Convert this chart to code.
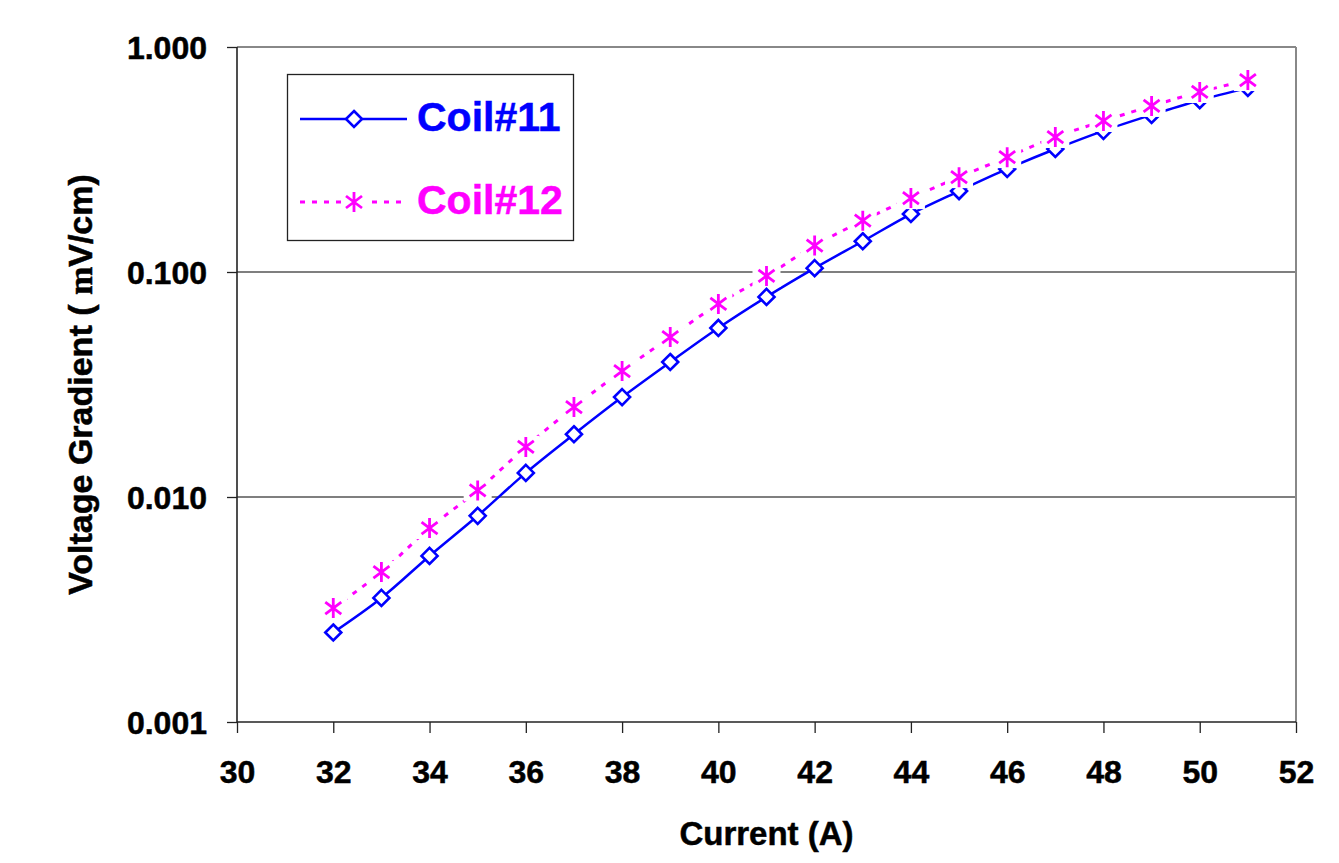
<!DOCTYPE html>
<html lang="en">
    <head>
        <meta charset="UTF-8" />
        <title>Voltage Gradient vs Current</title>
        <script src="https://d3js.org/d3.v7.min.js"></script>
        <style>
            body {
                margin: 0;
                background: #fff;
            }
            text {
                font-family: "Liberation Sans", Arial, sans-serif;
                font-weight: bold;
                stroke-width: 0.5px;
                paint-order: stroke;
            }
            .axis path {
                display: none;
            }
            .axis line {
                stroke: #222;
                stroke-width: 1.3px;
            }
            .axis text {
                font-size: 32px;
                fill: #000;
                stroke: #000;
            }
        </style>
    </head>
    <body>
        <div id="chart"></div>
        <script>
            const width = 1339,
                height = 863;

            // Current (A)
            const current = [
                32, 33, 34, 35, 36, 37, 38, 39, 40, 41, 42, 43, 44, 45, 46, 47,
                48, 49, 50, 51,
            ];

            // Voltage gradient (mV/cm)
            const coil11 = [
                0.0025, 0.00356, 0.00547, 0.00825, 0.0128, 0.019, 0.0278,
                0.0398, 0.0564, 0.0775, 0.104, 0.137, 0.181, 0.229, 0.287,
                0.352, 0.424, 0.499, 0.58, 0.658,
            ];
            const coil12 = [
                0.00321, 0.00464, 0.00728, 0.0107, 0.0167, 0.0251, 0.0363,
                0.0514, 0.0721, 0.096, 0.131, 0.169, 0.213, 0.264, 0.324,
                0.398, 0.469, 0.547, 0.631, 0.713,
            ];

            const xTicks = [30, 32, 34, 36, 38, 40, 42, 44, 46, 48, 50, 52];
            const yTicks = [0.001, 0.01, 0.1, 1];
            const gridValues = [0.01, 0.1];

            const margin = { left: 237, right: 43, top: 47, bottom: 141 };
            const plotW = width - margin.left - margin.right;
            const plotH = height - margin.top - margin.bottom;

            const svg = d3
                .select("#chart")
                .append("svg")
                .attr("width", width)
                .attr("height", height);

            const x = d3
                .scaleLinear()
                .domain([30, 52])
                .range([margin.left, margin.left + plotW]);
            const y = d3
                .scaleLog()
                .domain([0.001, 1])
                .range([margin.top + plotH, margin.top]);

            // gridlines
            svg.selectAll(".grid")
                .data(gridValues)
                .enter()
                .append("line")
                .attr("x1", x(30))
                .attr("x2", x(52))
                .attr("y1", (d) => y(d))
                .attr("y2", (d) => y(d))
                .attr("stroke", "#555")
                .attr("stroke-width", 1.6);

            // frame: top/right grey, left/bottom dark
            svg.append("line")
                .attr("x1", x(30))
                .attr("x2", x(52))
                .attr("y1", y(1))
                .attr("y2", y(1))
                .attr("stroke", "#888")
                .attr("stroke-width", 2);
            svg.append("line")
                .attr("x1", x(52))
                .attr("x2", x(52))
                .attr("y1", y(1))
                .attr("y2", y(0.001))
                .attr("stroke", "#888")
                .attr("stroke-width", 2);
            svg.append("line")
                .attr("x1", x(30))
                .attr("x2", x(30))
                .attr("y1", y(1))
                .attr("y2", y(0.001))
                .attr("stroke", "#222")
                .attr("stroke-width", 1.6);
            svg.append("line")
                .attr("x1", x(30))
                .attr("x2", x(52))
                .attr("y1", y(0.001))
                .attr("y2", y(0.001))
                .attr("stroke", "#222")
                .attr("stroke-width", 1.6);

            // axes
            const xAxis = svg
                .append("g")
                .attr("class", "axis")
                .attr("transform", `translate(0,${y(0.001)})`)
                .call(
                    d3
                        .axisBottom(x)
                        .tickValues(xTicks)
                        .tickSize(11)
                        .tickPadding(28)
                        .tickFormat(d3.format("d")),
                );
            xAxis.selectAll("text").attr("dy", null).attr("y", 61);

            const yAxis = svg
                .append("g")
                .attr("class", "axis")
                .attr("transform", `translate(${x(30)},0)`)
                .call(
                    d3
                        .axisLeft(y)
                        .tickValues(yTicks)
                        .tickSize(10)
                        .tickPadding(20)
                        .tickFormat(d3.format(".3f")),
                );
            yAxis.selectAll("text").attr("dy", "0.35em");

            // axis titles
            svg.append("text")
                .attr("x", (x(30) + x(52)) / 2)
                .attr("y", 845)
                .attr("text-anchor", "middle")
                .attr("stroke", "#000")
                .style("font-size", "33px")
                .text("Current (A)");

            const yTitle = svg
                .append("text")
                .attr(
                    "transform",
                    `translate(92,${(y(1) + y(0.001)) / 2}) rotate(-90)`,
                )
                .attr("text-anchor", "middle")
                .attr("stroke", "#000")
                .style("font-size", "34px");
            yTitle.append("tspan").text("Voltage Gradient ( ");
            yTitle
                .append("tspan")
                .style(
                    "font-family",
                    "'Liberation Serif', 'Times New Roman', serif",
                )
                .text("m");
            yTitle.append("tspan").text("V/cm)");

            const line = d3
                .line()
                .x((d) => x(d[0]))
                .y((d) => y(d[1]))
                .curve(d3.curveCatmullRom.alpha(0.5));

            const pts11 = current.map((c, i) => [c, coil11[i]]);
            const pts12 = current.map((c, i) => [c, coil12[i]]);

            const diamond = (s) => `M0,${-s}L${s},0L0,${s}L${-s},0Z`;
            const star = (s) =>
                `M0,${-s}V${s}M${-s * 0.8},${-s * 0.6}L${s * 0.8},${s * 0.6}M${-s * 0.8},${s * 0.6}L${s * 0.8},${-s * 0.6}`;

            // Coil#11
            svg.append("path")
                .datum(pts11)
                .attr("d", line)
                .attr("fill", "none")
                .attr("stroke", "#0000ff")
                .attr("stroke-width", 2.5);
            svg.selectAll(".m11")
                .data(pts11)
                .enter()
                .append("path")
                .attr("transform", (d) => `translate(${x(d[0])},${y(d[1])})`)
                .attr("d", diamond(8))
                .attr("fill", "#fff")
                .attr("stroke", "#0000ff")
                .attr("stroke-width", 2.6);

            // Coil#12
            svg.append("path")
                .datum(pts12)
                .attr("d", line)
                .attr("fill", "none")
                .attr("stroke", "#ff00ff")
                .attr("stroke-width", 3)
                .attr("stroke-dasharray", "5,7");
            const m12 = svg
                .selectAll(".m12")
                .data(pts12)
                .enter()
                .append("g")
                .attr("transform", (d) => `translate(${x(d[0])},${y(d[1])})`);
            m12.append("rect")
                .attr("x", -14)
                .attr("y", -11)
                .attr("width", 28)
                .attr("height", 22)
                .attr("fill", "#fff");
            m12.append("path")
                .attr("d", star(10))
                .attr("fill", "none")
                .attr("stroke", "#ff00ff")
                .attr("stroke-width", 2.8);

            // legend
            const legend = svg.append("g");
            legend
                .append("rect")
                .attr("x", 287.5)
                .attr("y", 74.5)
                .attr("width", 286)
                .attr("height", 166)
                .attr("fill", "#fff")
                .attr("stroke", "#222")
                .attr("stroke-width", 1.3);

            const legendItems = [
                { name: "Coil#11", color: "#0000ff", y: 119, dash: null },
                { name: "Coil#12", color: "#ff00ff", y: 202, dash: "5,7" },
            ];
            legendItems.forEach((item, i) => {
                legend
                    .append("line")
                    .attr("x1", 300)
                    .attr("x2", 407)
                    .attr("y1", item.y)
                    .attr("y2", item.y)
                    .attr("stroke", item.color)
                    .attr("stroke-width", i === 0 ? 2.5 : 3)
                    .attr("stroke-dasharray", item.dash);
                const g = legend
                    .append("g")
                    .attr("transform", `translate(354,${item.y})`);
                if (i === 0) {
                    g.append("path")
                        .attr("d", diamond(8))
                        .attr("fill", "#fff")
                        .attr("stroke", item.color)
                        .attr("stroke-width", 2.6);
                } else {
                    g.append("rect")
                        .attr("x", -13)
                        .attr("y", -11)
                        .attr("width", 26)
                        .attr("height", 22)
                        .attr("fill", "#fff");
                    g.append("path")
                        .attr("d", star(10))
                        .attr("fill", "none")
                        .attr("stroke", item.color)
                        .attr("stroke-width", 2.8);
                }
                legend
                    .append("text")
                    .attr("x", 417)
                    .attr("y", item.y + 12)
                    .attr("fill", item.color)
                    .attr("stroke", item.color)
                    .style("font-size", "41px")
                    .text(item.name);
            });
        </script>
    </body>
</html>
